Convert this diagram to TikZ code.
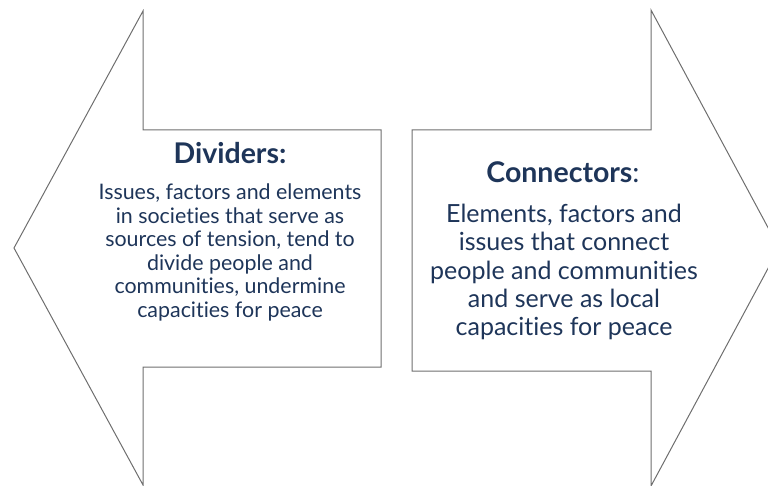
\documentclass[tikz,border=0pt]{standalone}
\usepackage{fontspec}
\setmainfont{Lato}[Ligatures=CommonOff]
\definecolor{navy}{HTML}{1E3559}
\definecolor{edge}{HTML}{6E6E6E}
\tikzset{
  arrowshape/.style={draw=edge, line width=1pt, line join=miter},
  headtxt/.style={text=navy, font=\fontsize{28.5}{32}\selectfont\bfseries, anchor=base, inner sep=0pt},
  bodytxt/.style={text=navy, align=center, anchor=north, inner sep=0pt},
}
\begin{document}
\begin{tikzpicture}[x=1pt,y=-1pt]
\useasboundingbox (0,0) rectangle (768,486);
\begin{scope}
\clip (0,0) rectangle (768,486);
% left arrow
\draw[arrowshape] (14,248) -- (143,11) -- (143,130) -- (381,130) -- (381,367) -- (143,367) -- (143,485) -- cycle;
% right arrow
\draw[arrowshape] (412,130) -- (651,130) -- (651,10) -- (779,248) -- (651,486) -- (651,371) -- (412,371) -- cycle;
\end{scope}
\node[headtxt] (divt) at (230,164) {Dividers:};
\node[bodytxt, font=\fontsize{21.4}{23.6}\selectfont] (divb) at (230,183.6) {Issues, factors and elements\\in societies that serve as\\sources of tension, tend to\\divide people and\\communities, undermine\\capacities for peace};
\node[headtxt] (cont) at (563,183) {Connectors\mdseries:};
\node[bodytxt, font=\fontsize{25}{28.2}\selectfont] (conb) at (564,204) {Elements, factors and\\issues that connect\\people and communities\\and serve as local\\capacities for peace};
\end{tikzpicture}
\end{document}
